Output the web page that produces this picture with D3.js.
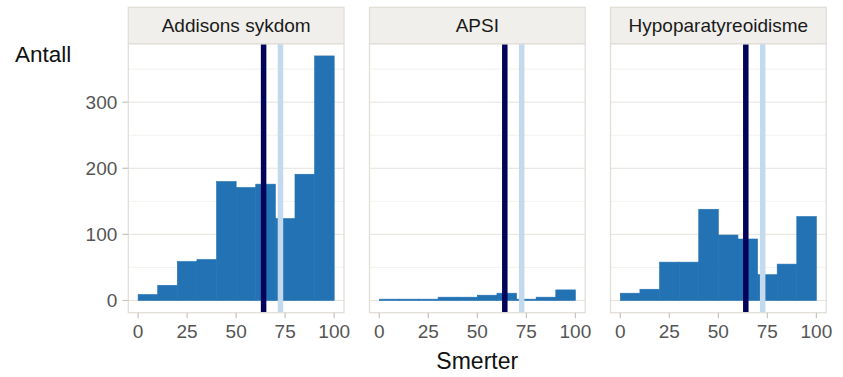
<!DOCTYPE html>
<html>
<head>
  <script src="https://cdn.jsdelivr.net/npm/d3@7"></script>
  <style>
    body { margin: 0; background: #fff; }
    text { font-family: "Liberation Sans", Arial, sans-serif; }
  </style>
</head>
<body>
  <div id="chart"></div>
  <script>
    // data: counts per bin of width 10 (0-10 ... 90-100)
    const panels = ["Addisons sykdom", "APSI", "Hypoparatyreoidisme"]
    const binStarts = [0, 10, 20, 30, 40, 50, 60, 70, 80, 90]
    const addisonCounts = [9, 23, 59, 62, 180, 171, 176, 124, 191, 370]
    const apsiCounts = [2, 2, 2, 5, 5, 8, 11, 2, 5, 16]
    const hypoCounts = [11, 17, 58, 58, 138, 99, 93, 39, 55, 127]
    const refLines = [64, 72.6]
    const xTicks = [0, 25, 50, 75, 100]
    const yTicks = [0, 100, 200, 300]
    const yMinor = [50, 150, 250, 350]

    const counts = [addisonCounts, apsiCounts, hypoCounts]

    const width = 843, height = 377
    const panelLeft = [128.3, 369.5, 610.5]
    const pw = 215.7
    const stripTop = 7.3, stripBottom = 43.7
    const plotBottom = 312.7
    const ph = plotBottom - stripBottom

    const barColor = "#2372b4"
    const lineColors = ["#02035a", "#c3d9ee"]
    const borderColor = "#e2dfd9"

    const svg = d3.select("#chart").append("svg")
      .attr("width", width)
      .attr("height", height)

    const maxCount = d3.max(counts.flat())
    const x = d3.scaleLinear().domain([-5, 105]).range([0, pw])
    const y = d3.scaleLinear().domain([-0.05 * maxCount, 1.05 * maxCount]).range([ph, 0])

    panels.forEach((name, i) => {
      const g = svg.append("g").attr("transform", `translate(${panelLeft[i]},${stripBottom})`)

      // grid
      g.selectAll(".minor").data(yMinor).enter().append("line")
        .attr("x1", 0).attr("x2", pw)
        .attr("y1", d => y(d)).attr("y2", d => y(d))
        .style("stroke", "#f3f2ef").style("stroke-width", 1)
      g.selectAll(".major").data(yTicks).enter().append("line")
        .attr("x1", 0).attr("x2", pw)
        .attr("y1", d => y(d)).attr("y2", d => y(d))
        .style("stroke", "#e6e3de").style("stroke-width", 1)

      // bars (thin stroke of same colour hides the seams)
      g.selectAll("rect.bar").data(binStarts).enter().append("rect")
        .attr("x", d => x(d))
        .attr("width", d => x(d + 10) - x(d))
        .attr("y", (d, j) => y(counts[i][j]))
        .attr("height", (d, j) => y(0) - y(counts[i][j]))
        .attr("fill", barColor)
        .style("stroke", barColor).style("stroke-width", 0.6)

      // reference lines
      g.selectAll(".ref").data(refLines).enter().append("line")
        .attr("x1", d => x(d)).attr("x2", d => x(d))
        .attr("y1", 0).attr("y2", ph)
        .style("stroke", (d, j) => lineColors[j])
        .style("stroke-width", 5.5)

      // panel border
      g.append("rect")
        .attr("x", 0).attr("y", 0).attr("width", pw).attr("height", ph)
        .attr("fill", "none").style("stroke", borderColor).style("stroke-width", 1.3)

      // strip
      svg.append("rect")
        .attr("x", panelLeft[i]).attr("y", stripTop)
        .attr("width", pw).attr("height", stripBottom - stripTop)
        .attr("fill", "#f0efeb").style("stroke", borderColor).style("stroke-width", 1.3)
      svg.append("text")
        .attr("x", panelLeft[i] + pw / 2).attr("y", 32)
        .attr("text-anchor", "middle")
        .style("font-size", "19px").style("fill", "#1a1a1a")
        .text(name)

      // x axis ticks
      g.selectAll(".xt").data(xTicks).enter().append("line")
        .attr("x1", d => x(d)).attr("x2", d => x(d))
        .attr("y1", ph).attr("y2", ph + 5.5)
        .style("stroke", "#c8c5bf").style("stroke-width", 1.2)
      g.selectAll(".xl").data(xTicks).enter().append("text")
        .attr("x", d => x(d)).attr("y", ph + 25.5)
        .attr("text-anchor", "middle")
        .style("font-size", "19px").style("fill", "#555")
        .text(d => d)

      if (i === 0) {
        g.selectAll(".yt").data(yTicks).enter().append("line")
          .attr("x1", -6).attr("x2", 0)
          .attr("y1", d => y(d)).attr("y2", d => y(d))
          .style("stroke", "#c8c5bf").style("stroke-width", 1.2)
        g.selectAll(".yl").data(yTicks).enter().append("text")
          .attr("x", -11).attr("y", d => y(d) + 7)
          .attr("text-anchor", "end")
          .style("font-size", "19px").style("fill", "#555")
          .text(d => d)
      }
    })

    svg.append("text")
      .attr("x", 15).attr("y", 62)
      .style("font-size", "22.5px").style("fill", "#111")
      .text("Antall")

    svg.append("text")
      .attr("x", (panelLeft[0] + panelLeft[2] + pw) / 2).attr("y", 369)
      .attr("text-anchor", "middle")
      .style("font-size", "23px").style("fill", "#111")
      .text("Smerter")
  </script>
</body>
</html>
